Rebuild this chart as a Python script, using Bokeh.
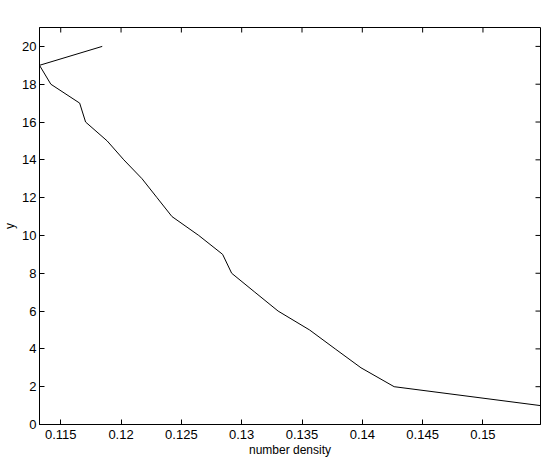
import math
from bokeh.plotting import figure
from bokeh.models import FixedTicker, Range1d
from bokeh.embed import file_html
from bokeh.resources import INLINE

# data
number_density = [0.15477, 0.14264, 0.13989, 0.13775, 0.13563, 0.13302, 0.13109,
                  0.12917, 0.12842, 0.12644, 0.12422, 0.12298, 0.12174, 0.12023,
                  0.11885, 0.11706, 0.11657, 0.11418, 0.11324, 0.11844]
y_values = [1, 2, 3, 4, 5, 6, 7, 8, 9, 10, 11, 12, 13, 14, 15, 16, 17, 18, 19, 20]

x_ticks = [0.115, 0.12, 0.125, 0.13, 0.135, 0.14, 0.145, 0.15]
x_tick_labels = ["0.115", "0.12", "0.125", "0.13", "0.135", "0.14", "0.145", "0.15"]
y_ticks = [0, 2, 4, 6, 8, 10, 12, 14, 16, 18, 20]

X_MIN, X_MAX = 0.11324, 0.15477
Y_MIN, Y_MAX = 0, 21

FONT = "Liberation Sans"

p = figure(width=545, height=459, output_backend="svg", toolbar_location=None,
           x_range=Range1d(X_MIN, X_MAX), y_range=Range1d(Y_MIN, Y_MAX),
           min_border_left=37, min_border_right=5, min_border_top=27, min_border_bottom=35)
p.outline_line_color = "black"
p.outline_line_width = 1
p.xgrid.visible = False
p.ygrid.visible = False

p.line(number_density, y_values, line_color="black", line_width=1)

# inward ticks on the top and right sides of the box
p.scatter(x_ticks, [Y_MAX] * len(x_ticks), marker="dash", angle=math.pi / 2,
          size=10, line_color="black", line_width=1)
p.scatter([X_MAX] * len(y_ticks), y_ticks, marker="dash",
          size=10, line_color="black", line_width=1)

def style(ax):
    ax.axis_line_color = "black"
    ax.axis_line_width = 1
    ax.major_tick_line_color = "black"
    ax.major_tick_in = 5
    ax.major_tick_out = 0
    ax.minor_tick_line_color = None
    ax.major_label_text_font = FONT
    ax.major_label_text_font_size = "13px"
    ax.major_label_text_color = "black"
    ax.axis_label_text_font = FONT
    ax.axis_label_text_font_size = "12px"
    ax.axis_label_text_font_style = "normal"
    ax.axis_label_text_color = "black"

xa = p.xaxis[0]
xa.ticker = FixedTicker(ticks=x_ticks)
xa.major_label_overrides = {t: l for t, l in zip(x_ticks, x_tick_labels)}
xa.axis_label = "number density"
style(xa)
xa.major_label_standoff = 5
xa.axis_label_standoff = 1

ya = p.yaxis[0]
ya.ticker = FixedTicker(ticks=y_ticks)
ya.axis_label = "y"
style(ya)
ya.major_label_standoff = 3
ya.axis_label_standoff = 2

open("out.html", "w").write(file_html(p, INLINE))
